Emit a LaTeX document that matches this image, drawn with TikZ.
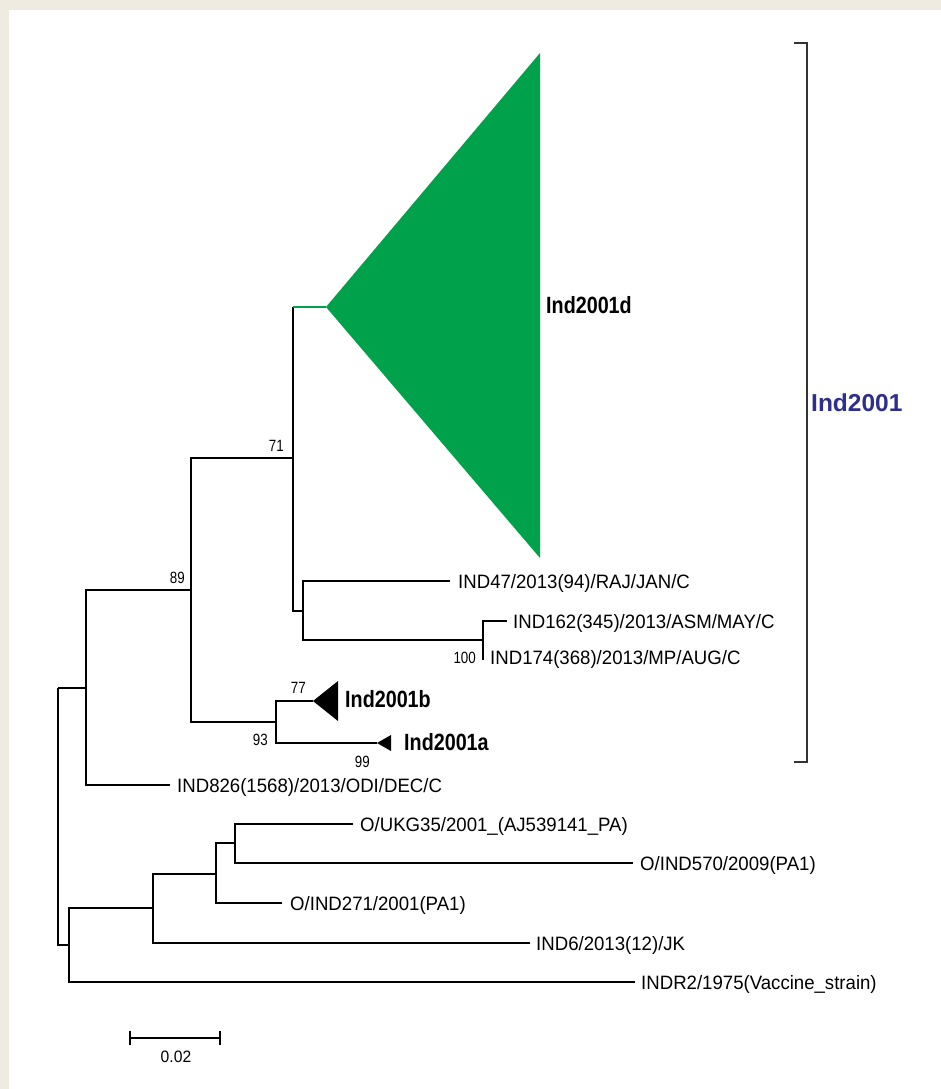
\documentclass[tikz,border=0pt]{standalone}
\usepackage{fontspec}
\setmainfont{Liberation Sans}
\usepackage{graphicx}
\definecolor{bgbeige}{HTML}{EFEBE1}
\definecolor{cladegreen}{HTML}{00A14B}
\definecolor{labblue}{HTML}{2E2F8C}
\definecolor{brkgray}{HTML}{333333}
\newcommand{\taxlab}[1]{\scalebox{0.99}[1.03]{\fontsize{18.8}{20}\selectfont #1}}
\newcommand{\cladelab}[1]{\scalebox{0.84}[1]{\fontsize{23.5}{26}\selectfont\bfseries #1}}
\newcommand{\bootlab}[1]{\scalebox{0.82}[1]{\fontsize{16.3}{18}\selectfont #1}}
\begin{document}
\begin{tikzpicture}[x=1pt,y=-1pt,
  br/.style={line width=1.3pt,black},
  gbr/.style={line width=1.3pt,cladegreen},
  tax/.style={inner sep=0pt,anchor=base west},
  boot/.style={inner sep=0pt,anchor=base east},
  brk/.style={line width=1.6pt,brkgray}]
\useasboundingbox (0,0) rectangle (941,1089);
\fill[bgbeige] (0,0) rectangle (941,1089);
\fill[white] (9,10) rectangle (941,1089);

% internal nodes
\coordinate (r0) at (58,688);
\coordinate (nA) at (86,688);
\coordinate (nB) at (69,945);
\coordinate (n89) at (191,590);
\coordinate (n71) at (293,458);
\coordinate (n93) at (276,722);
\coordinate (nC) at (303,611);
\coordinate (n100) at (483,640);
\coordinate (nE) at (153,908);
\coordinate (nF) at (216,874);
\coordinate (nG) at (235,843);
\coordinate (g0) at (293,307);
% tips
\coordinate (dapex) at (326,307);
\coordinate (bapex) at (313,701);
\coordinate (aapex) at (377,743);
\coordinate (t47) at (450,581);
\coordinate (t162) at (507,621);
\coordinate (t174) at (483,660);
\coordinate (t826) at (170,785);
\coordinate (tukg) at (353,824);
\coordinate (t570) at (633,863);
\coordinate (t271) at (282,903);
\coordinate (t6) at (530,943);
\coordinate (tr2) at (635,982);

% branches
\draw[br] (r0) -- (nA);
\draw[br] (r0) |- (nB);
\draw[br] (nA) |- (n89);
\draw[br] (nA) |- (t826);
\draw[br] (n89) |- (n71);
\draw[br] (n89) |- (n93);
\draw[br] (n71) -- (g0);
\draw[gbr] (g0) -- (dapex);
\draw[br] (n71) |- (nC);
\draw[br] (nC) |- (t47);
\draw[br] (nC) |- (n100);
\draw[br] (n100) |- (t162);
\draw[br] (n100) -- (t174);
\draw[br] (n93) |- (bapex);
\draw[br] (n93) |- (aapex);
\draw[br] (nB) |- (nE);
\draw[br] (nB) |- (tr2);
\draw[br] (nE) |- (nF);
\draw[br] (nE) |- (t6);
\draw[br] (nF) |- (nG);
\draw[br] (nF) |- (t271);
\draw[br] (nG) |- (tukg);
\draw[br] (nG) |- (t570);

% collapsed clades
\fill[cladegreen] (dapex) -- (540,53) -- (540,558) -- cycle;
\fill[black] (bapex) -- (338,681) -- (338,721) -- cycle;
\fill[black] (aapex) -- (391,735) -- (391,751) -- cycle;

% taxon labels
\node[tax] (l47) at (458,588) {\taxlab{IND47/2013(94)/RAJ/JAN/C}};
\node[tax] (l162) at (513,628) {\taxlab{IND162(345)/2013/ASM/MAY/C}};
\node[tax] (l174) at (490,664) {\taxlab{IND174(368)/2013/MP/AUG/C}};
\node[tax] (l826) at (177,792) {\taxlab{IND826(1568)/2013/ODI/DEC/C}};
\node[tax] (lukg) at (360,831) {\taxlab{O/UKG35/2001\_(AJ539141\_PA)}};
\node[tax] (l570) at (640,870) {\taxlab{O/IND570/2009(PA1)}};
\node[tax] (l271) at (290,910) {\taxlab{O/IND271/2001(PA1)}};
\node[tax] (l6) at (536,950) {\taxlab{IND6/2013(12)/JK}};
\node[tax] (lr2) at (641,989) {\taxlab{INDR2/1975(Vaccine\_strain)}};

% clade labels
\node[tax] (ld) at (546,313) {\cladelab{Ind2001d}};
\node[tax] (lb) at (345,707) {\cladelab{Ind2001b}};
\node[tax] (la) at (404,750) {\cladelab{Ind2001a}};

% bootstrap values
\node[boot] (b71) at (284,451) {\bootlab{71}};
\node[boot] (b89) at (185,583) {\bootlab{89}};
\node[boot] (b77) at (306,693) {\bootlab{77}};
\node[boot] (b93) at (268,745) {\bootlab{93}};
\node[boot] (b99) at (370,767) {\bootlab{99}};
\node[boot] (b100) at (476,663) {\bootlab{100}};

% bracket
\coordinate (bk1) at (794,43);
\coordinate (bk2) at (807,43);
\coordinate (bk3) at (807,762);
\coordinate (bk4) at (794,762);
\draw[brk] (bk1) -- (bk2) -- (bk3) -- (bk4);
\node[tax] (lgrp) at (811,411) {\fontsize{24.5}{27}\selectfont\bfseries\color{labblue}Ind2001};

% scale bar
\coordinate (s1) at (130,1038);
\coordinate (s2) at (220,1038);
\draw[line width=1.2pt] (s1) -- (s2);
\draw[line width=1.2pt] ([yshift=-7pt]s1) -- ([yshift=7pt]s1);
\draw[line width=1.2pt] ([yshift=-7pt]s2) -- ([yshift=7pt]s2);
\node[inner sep=0pt,anchor=base] (sl) at (176,1062) {\scalebox{0.95}[1]{\fontsize{16.5}{18}\selectfont 0.02}};
\end{tikzpicture}
\end{document}
